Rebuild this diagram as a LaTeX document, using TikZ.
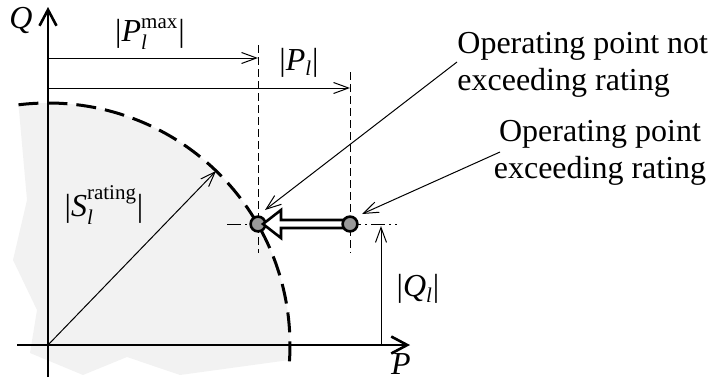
\documentclass[tikz,border=0pt]{standalone}
\usepackage{amsmath}
\usepackage{fontspec}
\setmainfont{Liberation Serif}
\usetikzlibrary{arrows.meta,calc}
\DeclareMathSizes{16}{16}{10.5}{8}
\begin{document}
\begin{tikzpicture}[x=0.5pt,y=-0.5pt,
  every node/.style={font=\fontsize{16}{18.5}\selectfont, inner sep=0pt},
  axis/.style={line width=1.3pt, -{Straight Barb[length=8pt,width=8.5pt,line width=1.3pt]}},
  thinarrow/.style={line width=0.5pt, -{Straight Barb[length=7.5pt,width=5.5pt,line width=0.5pt]}},
  guide/.style={line width=0.5pt, dash pattern=on 4pt off 2pt},
  centerline/.style={line width=0.5pt, dash pattern=on 7pt off 2pt on 1pt off 2pt},
  ratingarc/.style={line width=1.5pt, dash pattern=on 10pt off 4.5pt},
  oppoint/.style={circle, draw, line width=1.3pt, fill=black!40, minimum size=7.4pt, inner sep=0pt},
  hollow/.style={draw, line width=1.3pt, fill=white, line join=miter}
]
\useasboundingbox (0,0) rectangle (716,391);

\coordinate (O) at (48,345);
% shaded region
\fill[black!5] ($(O)+(-97:242)$) arc[start angle=-97, end angle=3.55, radius=242]
  -- (180,375) -- (127,357) -- (83,375) -- (30,353) -- (37,310) -- (13,260) -- (27,200) -- cycle;
% rating circle
\draw[ratingarc] ($(O)+(-97:242)$) arc[start angle=-97, end angle=5.2, radius=242];

% axes
\coordinate (Pstart) at (17,345);
\coordinate (Pend) at (410,345);
\coordinate (Qstart) at (48,377);
\coordinate (Qend) at (48,7);
\draw[axis] (Pstart) -- (Pend);
\draw[axis] (Qstart) -- (Qend);
\node[anchor=base] (Plabel) at (401,374) {\textit{P}};
\node[anchor=base] (Qlabel) at (21,28) {\textit{Q}};

% radius
\coordinate (R) at ($(O)+(-46:242)$);
\draw[thinarrow] (O) -- (R);
\node[anchor=base] (Slabel) at (104,216) {|$\textit{S}_{\textit{l}}^{\text{rating}}$|};

% guide lines
\coordinate (g1top) at (258,45);
\coordinate (g1bot) at (258,253);
\coordinate (g2top) at (350,72);
\coordinate (g2bot) at (350,253);
\coordinate (hl) at (227,224);
\coordinate (hr) at (397,224);
\draw[guide] (g1top) -- (g1bot);
\draw[guide] (g2top) -- (g2bot);
\draw[centerline] (hl) -- (hr);

% |P| arrows
\coordinate (a1s) at (48,58);
\coordinate (a1e) at (258,58);
\coordinate (a2s) at (48,88);
\coordinate (a2e) at (350,88);
\draw[thinarrow] (a1s) -- (a1e);
\draw[thinarrow] (a2s) -- (a2e);
\node[anchor=base] (Pmax) at (150,41) {|$\textit{P}_{\textit{l}}^{\text{max}}$|};
\node[anchor=base] (Pl) at (299,70) {|$\textit{P}_{\textit{l}}$|};

% |Q| arrow
\coordinate (qs) at (381,345);
\coordinate (qe) at (381,226);
\draw[thinarrow] (qs) -- (qe);
\node[anchor=base] (Ql) at (418,296) {|$\textit{Q}_{\textit{l}}$|};

% operating points and hollow arrow
\node[oppoint] (op1) at (258,224) {};
\draw[hollow] (263,224) -- (281,210) -- (281,220) -- (344,220) -- (344,228) -- (281,228) -- (281,238) -- cycle;
\node[oppoint] (op2) at (350,224) {};

% annotations
\node[anchor=base west, align=left] (txt1) at (457,90) {Operating point not\\exceeding rating};
\node[anchor=base, align=center] (txt2) at (600,178) {Operating point\\exceeding rating};
\coordinate (c1) at (457,62);
\coordinate (c1e) at (265,210);
\coordinate (c2) at (500,152);
\coordinate (c2e) at (362,214);
\draw[thinarrow] (c1) -- (c1e);
\draw[thinarrow] (c2) -- (c2e);
\end{tikzpicture}
\end{document}
